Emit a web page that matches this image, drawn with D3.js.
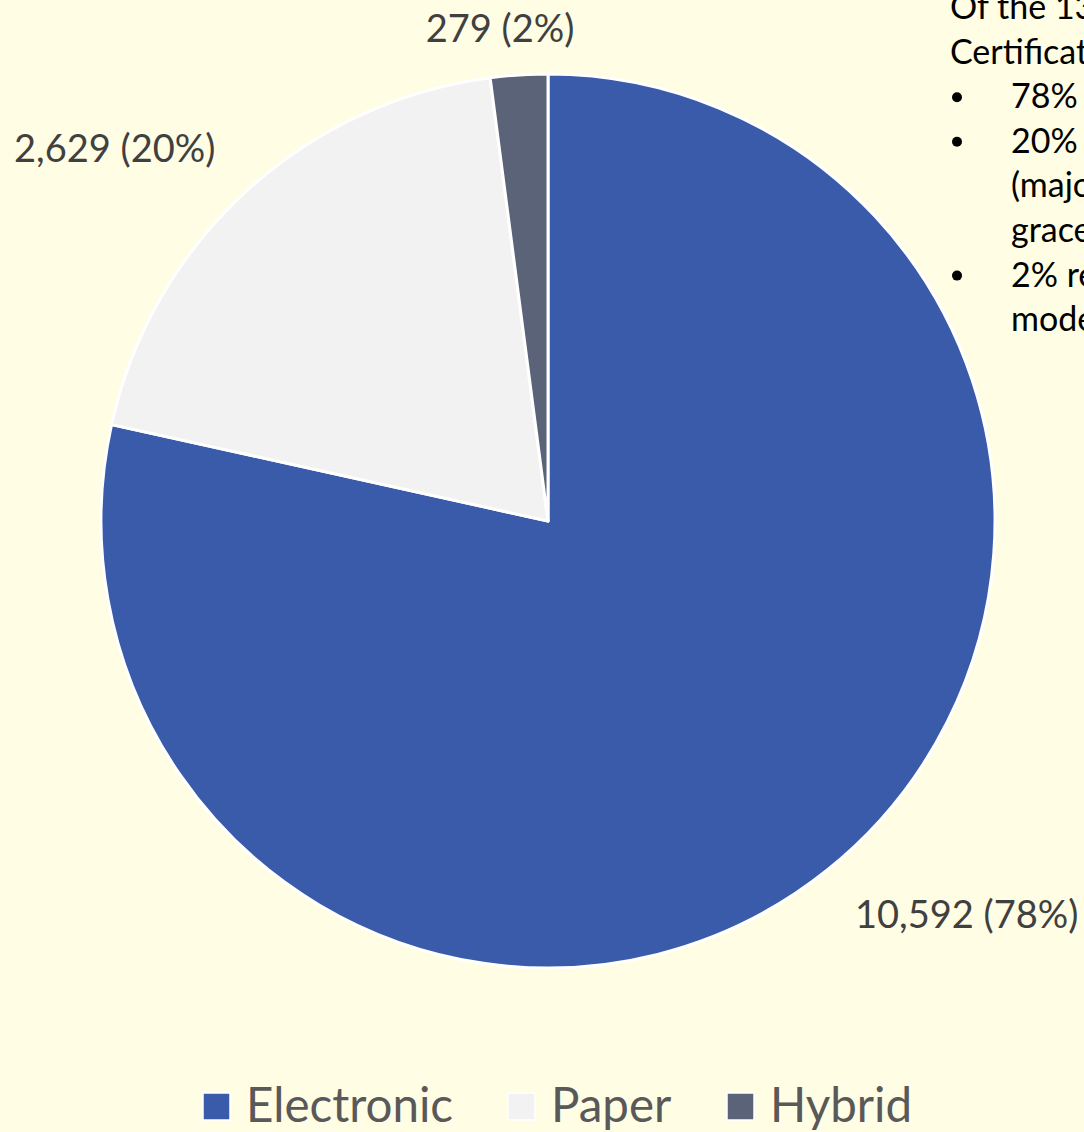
<!DOCTYPE html>
<html>
<head>
<meta charset="utf-8">
<script src="https://cdn.jsdelivr.net/npm/d3@7"></script>
<style>
  html, body { margin: 0; padding: 0; background: #FFFDE3; overflow: hidden; }
  svg { display: block; }
  text { font-family: Lato, "Open Sans", sans-serif; }
</style>
</head>
<body>
<script>
// Certificate submission modes
const categories = ["Electronic", "Paper", "Hybrid"];
const counts = [10592, 2629, 279];
const percentLabels = ["78%", "20%", "2%"];
const colors = ["#3A5BA9", "#F2F2F2", "#5A6378"];

// Side note lines (bullet flag, text)
const noteLines = [
  [false, "Of the 13,500"],
  [false, "Certificates"],
  [true, "78% "],
  [true, "20% "],
  [false, "(majo"],
  [false, "grace"],
  [true, "2% re"],
  [false, "mode"]
];

const W = 1084, H = 1132;
const svg = d3.select("body").append("svg").attr("width", W).attr("height", H);

const cx = 548, cy = 521, R = 447;

const pie = d3.pie().sort(null).value(d => d)(counts);
const arc = d3.arc().innerRadius(0).outerRadius(R);

const g = svg.append("g").attr("transform", `translate(${cx},${cy})`);
g.selectAll("path")
  .data(pie)
  .join("path")
  .attr("d", arc)
  .attr("fill", (d, i) => colors[i])
  .attr("stroke", "#FFFFFF")
  .attr("stroke-width", 3)
  .attr("stroke-linejoin", "round");

// Data labels outside the pie
const fmt = d3.format(",");
const labelPos = [
  { x: 855, y: 928, anchor: "start" },
  { x: 14, y: 162, anchor: "start" },
  { x: 500, y: 42, anchor: "middle" }
];
svg.selectAll("text.dlabel")
  .data(pie)
  .join("text")
  .attr("class", "dlabel")
  .attr("x", (d, i) => labelPos[i].x)
  .attr("y", (d, i) => labelPos[i].y)
  .attr("text-anchor", (d, i) => labelPos[i].anchor)
  .attr("fill", "#404040")
  .attr("font-size", 38)
  .text((d, i) => `${fmt(d.data)} (${percentLabels[i]})`);

// Legend
const legendItems = [
  { sx: 203, tx: 246 },
  { sx: 508, tx: 551 },
  { sx: 727, tx: 770 }
];
const lg = svg.append("g");
lg.selectAll("rect")
  .data(categories)
  .join("rect")
  .attr("x", (d, i) => legendItems[i].sx)
  .attr("y", 1093)
  .attr("width", 27)
  .attr("height", 27)
  .attr("fill", (d, i) => colors[i])
  .attr("stroke", "#FFFFFF")
  .attr("stroke-width", 1.5);
lg.selectAll("text")
  .data(categories)
  .join("text")
  .attr("x", (d, i) => legendItems[i].tx)
  .attr("y", 1122)
  .attr("fill", "#595959")
  .attr("font-size", 47.5)
  .text(d => d);

// Side note
const note = svg.append("g");
note.selectAll("g.line")
  .data(noteLines)
  .join("g")
  .attr("class", "line")
  .each(function(d, i) {
    const y = 19 + i * 44.6;
    const sel = d3.select(this);
    if (d[0]) {
      sel.append("circle").attr("cx", 957).attr("cy", y - 11).attr("r", 5).attr("fill", "#000");
    }
    const indented = d[0] || i === 4 || i === 5 || i === 7;
    sel.append("text")
      .attr("x", indented ? 1011 : 950)
      .attr("y", y)
      .attr("fill", "#000")
      .attr("font-size", 34)
      .text(d[1]);
  });
</script>
</body>
</html>
